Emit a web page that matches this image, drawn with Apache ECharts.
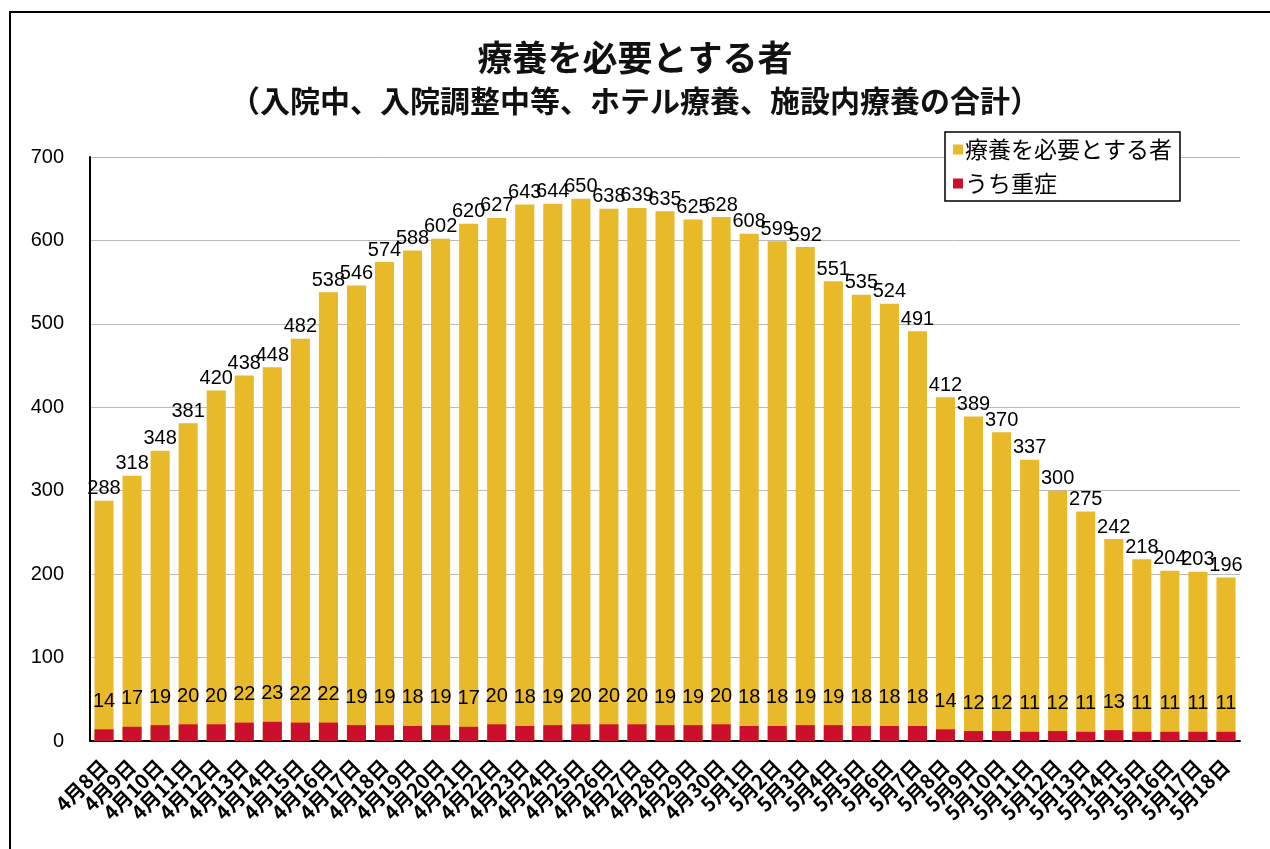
<!DOCTYPE html>
<html><head><meta charset="utf-8">
<script src="https://cdn.jsdelivr.net/npm/echarts@6/dist/echarts.min.js"></script>
<style>html,body{margin:0;padding:0;background:#fff;}#c{width:1270px;height:849px;}</style>
</head><body><div id="c"></div>
<script>
const categories = ['4月8日','4月9日','4月10日','4月11日','4月12日','4月13日','4月14日','4月15日','4月16日','4月17日','4月18日','4月19日','4月20日','4月21日','4月22日','4月23日','4月24日','4月25日','4月26日','4月27日','4月28日','4月29日','4月30日','5月1日','5月2日','5月3日','5月4日','5月5日','5月6日','5月7日','5月8日','5月9日','5月10日','5月11日','5月12日','5月13日','5月14日','5月15日','5月16日','5月17日','5月18日'];
const totalValues = [288,318,348,381,420,438,448,482,538,546,574,588,602,620,627,643,644,650,638,639,635,625,628,608,599,592,551,535,524,491,412,389,370,337,300,275,242,218,204,203,196];
const severeValues = [14,17,19,20,20,22,23,22,22,19,19,18,19,17,20,18,19,20,20,20,19,19,20,18,18,19,19,18,18,18,14,12,12,11,12,11,13,11,11,11,11];
const yTicks = [0,100,200,300,400,500,600,700];
const titleText = '療養を必要とする者';
const subtitleText = '（入院中、入院調整中等、ホテル療養、施設内療養の合計）';
const seriesNames = ['療養を必要とする者','うち重症'];

const JP = '"Noto Sans CJK JP", sans-serif';
const NUM = '"Liberation Sans Narrow", "Liberation Sans", Arial, sans-serif';
const chart = echarts.init(document.getElementById('c'));
chart.setOption({
  animation: false,
  backgroundColor: '#fff',
  graphic: [{type:'rect', shape:{x:10,y:12,width:1300,height:900}, style:{fill:'none', stroke:'#000', lineWidth:2}}],
  title: [
    {text: titleText, left: 'center', top: 35, textStyle:{fontFamily:JP, fontSize:35, fontWeight:'bold', color:'#111'}},
    {text: subtitleText, left: 'center', top: 81, textStyle:{fontFamily:JP, fontSize:30, fontWeight:'bold', color:'#111'}}
  ],
  legend: {
    right: 90, top: 132, orient:'vertical', itemWidth:10, itemHeight:10, itemGap:11,
    borderColor:'#000', borderWidth:1.5, padding:[6,8,6,8], backgroundColor:'#fff',
    icon:'rect',
    textStyle:{fontFamily:JP, fontSize:23, color:'#000', padding:[0,0,0,-3]},
    data: seriesNames
  },
  grid: {left: 90, right: 30, top: 157, bottom: 108},
  xAxis: {
    type:'category', data: categories,
    axisLine:{lineStyle:{color:'#000', width:2}},
    axisTick:{show:false},
    axisLabel:{rotate:45, interval:0, fontFamily:JP, fontSize:20, fontWeight:'bold', color:'#000', margin:22}
  },
  yAxis: {
    type:'value', min:0, max:700, interval:100,
    axisLine:{show:true, lineStyle:{color:'#000', width:2}},
    axisTick:{show:false},
    axisLabel:{fontFamily:NUM, fontSize:20, color:'#000', margin:26,
      formatter: v => yTicks.includes(v) ? String(v) : ''},
    splitLine:{lineStyle:{color:'#bbb', width:1}}
  },
  series: [
    {name: seriesNames[0], type:'bar', data: totalValues, barCategoryGap:'32%', barGap:'-100%',
     itemStyle:{color:'#E8B929'},
     label:{show:true, position:'top', distance:2, fontFamily:NUM, fontSize:20, color:'#000'}},
    {name: seriesNames[1], type:'bar', data: severeValues, barCategoryGap:'32%', barGap:'-100%',
     itemStyle:{color:'#CC0F2C'},
     label:{show:true, position:'top', distance:18, fontFamily:NUM, fontSize:20, color:'#000'}}
  ]
});
</script></body></html>
